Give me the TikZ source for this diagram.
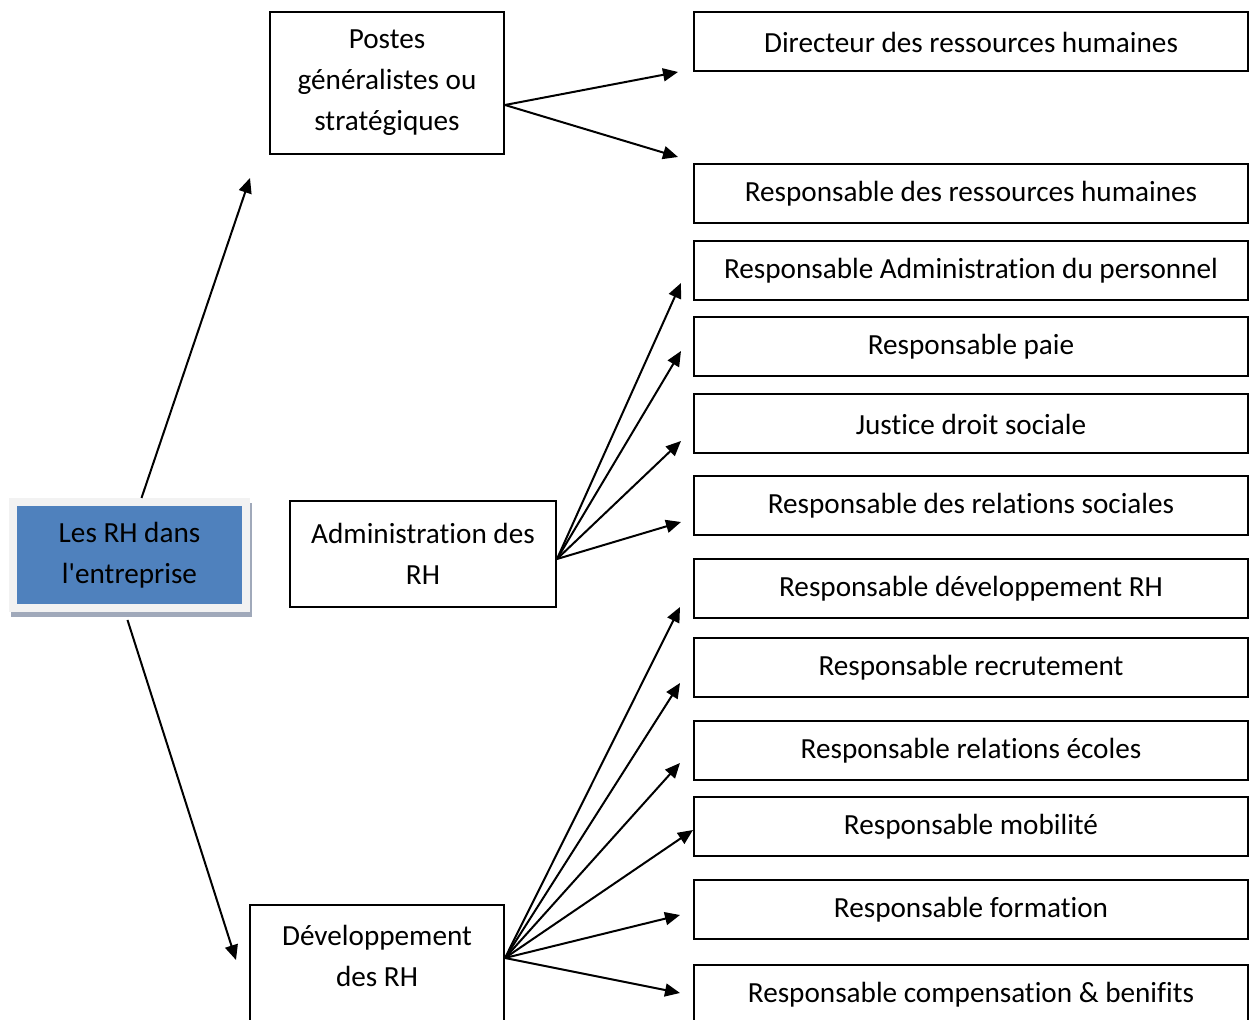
\documentclass[tikz,border=0pt]{standalone}
\usepackage{fontspec}
\setmainfont{Carlito}[Ligatures=NoCommon]
\usetikzlibrary{calc,arrows.meta,shadows}
\definecolor{rhblue}{HTML}{4F81BD}
\definecolor{rhframe}{HTML}{F2F2F2}
\definecolor{rhshadow}{HTML}{A0A9BA}

\begin{document}
\begin{tikzpicture}[
		x=0.5pt, y=-0.5pt,
		every node/.style={font=\fontsize{14.6}{20.5}\selectfont, align=center, inner sep=0pt},
		poste/.style={draw, line width=1pt, minimum width=277pt, minimum height=29.5pt},
		famille/.style={draw, line width=1pt},
		fleche/.style={line width=1pt, -{Triangle[length=7.5pt,width=6.5pt]}}
	]
	\useasboundingbox (0,0) rectangle (1254,1020);
	\clip (0,0) rectangle (1254,1020);

	\node[fill=rhblue, draw=rhframe, line width=4pt, minimum width=116.5pt, minimum height=53pt,
		drop shadow={shadow xshift=1pt, shadow yshift=-2.5pt, fill=rhshadow, draw=rhshadow, line width=4pt, opacity=1}]
		(rh) at (129.5,555) {Les RH dans\\l\textquotesingle entreprise};

	\node[famille, minimum width=117pt, minimum height=71pt] (postes) at (387,83) {Postes\\généralistes ou\\stratégiques};
	\node[famille, minimum width=133pt, minimum height=53pt] (admin) at (423,554) {Administration des\\RH};
	\node[famille, minimum width=127pt, minimum height=71pt, anchor=north] (dev) at (377,904) {Développement\\des RH\\\mbox{}};

	\node[poste] (drh) at (971,42) {Directeur des ressources humaines};
	\node[poste] (rrh) at (971,194) {Responsable des ressources humaines};
	\node[poste] (adp) at (971,271) {Responsable Administration du personnel};
	\node[poste] (paie) at (971,347) {Responsable paie};
	\node[poste] (justice) at (971,424) {Justice droit sociale};
	\node[poste] (relsoc) at (971,506) {Responsable des relations sociales};
	\node[poste] (devrh) at (971,589) {Responsable développement RH};
	\node[poste] (recrut) at (971,668) {Responsable recrutement};
	\node[poste] (ecoles) at (971,751) {Responsable relations écoles};
	\node[poste] (mobil) at (971,827) {Responsable mobilité};
	\node[poste] (form) at (971,910) {Responsable formation};
	\node[poste] (comp) at (971,995) {Responsable compensation \& benifits};

	\coordinate (vers-postes) at (250,178);
	\coordinate (vers-dev) at (236,960);
	\coordinate (vers-drh) at (678,72);
	\coordinate (vers-rrh) at (678,157);
	\coordinate (vers-adp) at (681,283);
	\coordinate (vers-paie) at (681,351);
	\coordinate (vers-justice) at (681,441);
	\coordinate (vers-relsoc) at (681,522);
	\coordinate (vers-devrh) at (680,607);
	\coordinate (vers-recrut) at (680,683);
	\coordinate (vers-ecoles) at (680,763);
	\coordinate (vers-mobil) at (693,830);
	\coordinate (vers-form) at (680,915);
	\coordinate (vers-comp) at (680,993);

	\draw[fleche] ($(rh.north)+(12,0)$) -- (vers-postes);
	\draw[fleche] ($(rh.south)+(-2,8)$) -- (vers-dev);

	\draw[fleche] ($(postes.east)+(0,22)$) -- (vers-drh);
	\draw[fleche] ($(postes.east)+(0,22)$) -- (vers-rrh);

	\draw[fleche] ($(admin.east)+(0,5)$) -- (vers-adp);
	\draw[fleche] ($(admin.east)+(0,5)$) -- (vers-paie);
	\draw[fleche] ($(admin.east)+(0,5)$) -- (vers-justice);
	\draw[fleche] ($(admin.east)+(0,5)$) -- (vers-relsoc);

	\draw[fleche] ($(dev.north east)+(0,54)$) -- (vers-devrh);
	\draw[fleche] ($(dev.north east)+(0,54)$) -- (vers-recrut);
	\draw[fleche] ($(dev.north east)+(0,54)$) -- (vers-ecoles);
	\draw[fleche] ($(dev.north east)+(0,54)$) -- (vers-mobil);
	\draw[fleche] ($(dev.north east)+(0,54)$) -- (vers-form);
	\draw[fleche] ($(dev.north east)+(0,54)$) -- (vers-comp);
\end{tikzpicture}
\end{document}
